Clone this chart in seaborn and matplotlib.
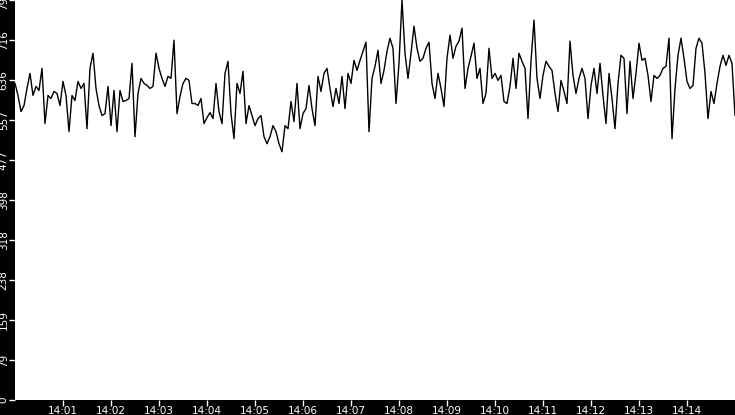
import numpy as np
import pandas as pd
import matplotlib
matplotlib.use("Agg")
import matplotlib.pyplot as plt
import seaborn as sns

# ---- data (one sample every 3.75 s) ----
start_time = "2024-01-01 14:00:00"
sample_seconds = 3.75
values_a = [630, 606, 574, 586, 620, 650, 606, 624, 616, 660,
            550, 606, 600, 614, 610, 586, 634, 606, 534, 606,
            596, 634, 620, 630, 540, 660, 690, 620, 586, 566]
values_b = [570, 624, 546, 616, 534, 616, 594, 596, 600, 670,
            524, 610, 640, 630, 626, 620, 624, 690, 660, 640,
            624, 644, 640, 716, 570, 604, 630, 640, 636, 590]
values_c = [590, 586, 600, 550, 562, 572, 560, 630, 574, 550,
            650, 674, 570, 520, 630, 610, 654, 550, 586, 566,
            546, 560, 566, 524, 510, 524, 546, 534, 510, 494]
values_d = [546, 540, 594, 554, 630, 540, 570, 580, 626, 580,
            546, 644, 614, 650, 660, 620, 584, 620, 590, 644,
            580, 650, 630, 676, 656, 676, 694, 712, 534, 640]
values_e = [664, 696, 630, 656, 694, 720, 700, 590, 670, 796,
            690, 640, 690, 744, 700, 674, 680, 700, 712, 630,
            600, 650, 620, 584, 680, 726, 680, 704, 714, 740,
            620, 660, 684, 710, 640, 660, 590, 610, 700, 640]
values_f = [650, 636, 646, 594, 590, 624, 680, 620, 690, 674,
            660, 560, 674, 756, 640, 600, 646, 674, 664, 656,
            610, 574, 636, 614, 590, 714, 646, 610, 640, 660,
            640, 560, 626, 660, 610, 670, 606, 550, 650, 600]
values_g = [540, 630, 686, 680, 570, 674, 600, 650, 710, 676,
            680, 646, 594, 646, 640, 646, 660, 664, 720, 520,
            620, 686, 720, 680, 634, 620, 626, 700, 720, 710,
            650, 560, 614, 590, 630, 664, 686, 666, 686, 670,
            566]
y_max = 796
x_tick_labels = ["14:01", "14:02", "14:03", "14:04", "14:05", "14:06", "14:07",
                 "14:08", "14:09", "14:10", "14:11", "14:12", "14:13", "14:14"]

values = values_a + values_b + values_c + values_d + values_e + values_f + values_g
times = pd.Timestamp(start_time) + pd.to_timedelta(np.arange(len(values)) * sample_seconds, unit="s")
df = pd.DataFrame({"time": times, "value": values})

# ---- figure ----
sns.set_theme(style="white")
plt.rcParams["font.family"] = ["DejaVu Sans"]

fig = plt.figure(figsize=(7.35, 4.15), dpi=100, facecolor="black")
ax = fig.add_axes([15 / 735, 15 / 415, 720 / 735, 400 / 415])
ax.set_facecolor("white")

sns.lineplot(data=df, x="time", y="value", ax=ax, color="black", linewidth=1.0)

t0 = pd.Timestamp(start_time)
ax.set_xlim(t0, t0 + pd.Timedelta(minutes=15))
ax.set_ylim(0, y_max)

xt = [t0 + pd.Timedelta(minutes=i + 1) for i in range(len(x_tick_labels))]
ax.set_xticks(xt)
ax.set_xticklabels(x_tick_labels)

yt = np.linspace(0, y_max, 11)
ax.set_yticks(yt)
ax.set_yticklabels([str(int(v)) for v in yt], rotation=90, va="center")

ax.tick_params(axis="both", colors="white", labelcolor="white", length=4,
               width=1, labelsize=7.5, direction="out", pad=0.5)
ax.tick_params(axis="x", bottom=True)
ax.tick_params(axis="y", left=True)
ax.set_xlabel("")
ax.set_ylabel("")
for s in ax.spines.values():
    s.set_visible(False)
ax.grid(False)

fig.savefig("out.png", dpi=100, facecolor="black")
